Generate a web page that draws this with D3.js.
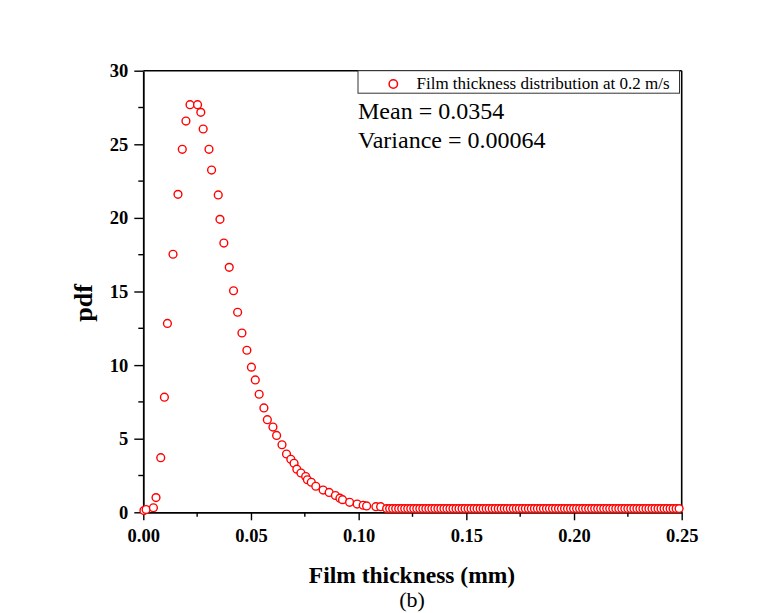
<!DOCTYPE html>
<html>
<head>
<meta charset="utf-8">
<script src="https://cdn.jsdelivr.net/npm/d3@7"></script>
<style>
  html, body { margin: 0; padding: 0; background: #ffffff; }
  svg { display: block; }
</style>
</head>
<body>
<svg id="chart" width="778" height="613"></svg>
<script>
// ---------- data ----------
const peakX = [0.0003, 0.0013, 0.0047, 0.0059, 0.0081, 0.0098, 0.0112, 0.0138, 0.0161, 0.0181,
  0.0198, 0.0217, 0.0252, 0.0267, 0.0278, 0.0305, 0.0317, 0.0348, 0.0356, 0.0374,
  0.0399, 0.0419, 0.0438, 0.0458, 0.0481, 0.0502, 0.0520, 0.0538, 0.0560, 0.0576,
  0.0602, 0.0619, 0.0644, 0.0665, 0.0685, 0.0700, 0.0713, 0.0732, 0.0754, 0.0762,
  0.0780, 0.0801, 0.0835, 0.0863, 0.0892, 0.0913, 0.0925, 0.0958, 0.0993, 0.1021,
  0.1037, 0.1080, 0.1102];
const peakY = [0.12, 0.19, 0.31, 1.00, 3.71, 7.82, 12.83, 17.53, 21.60, 24.66,
  26.58, 27.69, 27.69, 27.17, 26.04, 24.66, 23.25, 21.56, 19.90, 18.29,
  16.64, 15.05, 13.59, 12.18, 11.01, 9.86, 8.99, 8.02, 7.09, 6.29,
  5.79, 5.22, 4.59, 3.96, 3.60, 3.33, 2.93, 2.67, 2.43, 2.21,
  2.04, 1.77, 1.51, 1.35, 1.14, 0.96, 0.86, 0.68, 0.56, 0.48,
  0.43, 0.38, 0.38];
const tailX = [0.1130, 0.1144, 0.1158, 0.1172, 0.1186, 0.1200, 0.1214, 0.1228, 0.1242, 0.1256,
  0.1270, 0.1284, 0.1298, 0.1312, 0.1326, 0.1340, 0.1354, 0.1368, 0.1382, 0.1396,
  0.1410, 0.1424, 0.1438, 0.1452, 0.1466, 0.1480, 0.1494, 0.1508, 0.1522, 0.1536,
  0.1550, 0.1564, 0.1578, 0.1592, 0.1606, 0.1620, 0.1634, 0.1648, 0.1662, 0.1676,
  0.1690, 0.1704, 0.1718, 0.1732, 0.1746, 0.1760, 0.1774, 0.1788, 0.1802, 0.1816,
  0.1830, 0.1844, 0.1858, 0.1872, 0.1886, 0.1900, 0.1914, 0.1928, 0.1942, 0.1956,
  0.1970, 0.1984, 0.1998, 0.2012, 0.2026, 0.2040, 0.2054, 0.2068, 0.2082, 0.2096,
  0.2110, 0.2124, 0.2138, 0.2152, 0.2166, 0.2180, 0.2194, 0.2208, 0.2222, 0.2236,
  0.2250, 0.2264, 0.2278, 0.2292, 0.2306, 0.2320, 0.2334, 0.2348, 0.2362, 0.2376,
  0.2390, 0.2404, 0.2418, 0.2432, 0.2446, 0.2460, 0.2474, 0.2488];
const tailY = [0.25, 0.25, 0.25, 0.25, 0.25, 0.25, 0.25, 0.25, 0.25, 0.25,
  0.25, 0.25, 0.25, 0.25, 0.25, 0.25, 0.25, 0.25, 0.25, 0.25,
  0.25, 0.25, 0.25, 0.25, 0.25, 0.25, 0.25, 0.25, 0.25, 0.25,
  0.25, 0.25, 0.25, 0.25, 0.25, 0.25, 0.25, 0.25, 0.25, 0.25,
  0.25, 0.25, 0.25, 0.25, 0.25, 0.25, 0.25, 0.25, 0.25, 0.25,
  0.25, 0.25, 0.25, 0.25, 0.25, 0.25, 0.25, 0.25, 0.25, 0.25,
  0.25, 0.25, 0.25, 0.25, 0.25, 0.25, 0.25, 0.25, 0.25, 0.25,
  0.25, 0.25, 0.25, 0.25, 0.25, 0.25, 0.25, 0.25, 0.25, 0.25,
  0.25, 0.25, 0.25, 0.25, 0.25, 0.25, 0.25, 0.25, 0.25, 0.25,
  0.25, 0.25, 0.25, 0.25, 0.25, 0.25, 0.25, 0.25];

const xTicks = [0.00, 0.05, 0.10, 0.15, 0.20, 0.25];
const xTickLabels = ["0.00", "0.05", "0.10", "0.15", "0.20", "0.25"];
const xMinor = [0.025, 0.075, 0.125, 0.175, 0.225];
const yTicks = [0, 5, 10, 15, 20, 25, 30];
const yMinor = [2.5, 7.5, 12.5, 17.5, 22.5, 27.5];

const seriesName = "Film thickness distribution at 0.2 m/s";
const statsLines = ["Mean = 0.0354", "Variance = 0.00064"];
const xTitle = "Film thickness (mm)";
const yTitle = "pdf";
const caption = "(b)";

// ---------- chart ----------
const svg = d3.select("#chart");
const font = "'Liberation Serif', 'Times New Roman', Times, serif";
const L = 143.3, R = 681.7, T = 70.7, B = 512.3;

const x = d3.scaleLinear().domain([0, 0.25]).range([L, R]);
const y = d3.scaleLinear().domain([0, 30]).range([B, T]);

svg.append("rect").attr("width", 778).attr("height", 613).attr("fill", "#ffffff");

// frame (top & right)
svg.append("line").attr("x1", L).attr("x2", R).attr("y1", T).attr("y2", T)
  .attr("stroke", "#000").attr("stroke-width", 1.6);
svg.append("line").attr("x1", R).attr("x2", R).attr("y1", T).attr("y2", B)
  .attr("stroke", "#000").attr("stroke-width", 1.6);

// x axis
const xAxis = svg.append("g").attr("transform", `translate(0,${B})`)
  .call(d3.axisBottom(x).tickValues(xTicks).tickFormat((d, i) => xTickLabels[i])
    .tickSizeInner(8).tickSizeOuter(0).tickPadding(9));
xAxis.append("g").selectAll("line").data(xMinor).join("line")
  .attr("x1", d => x(d)).attr("x2", d => x(d)).attr("y1", 0).attr("y2", 4.5)
  .attr("stroke", "#000").attr("stroke-width", 1.4);

// y axis
const yAxis = svg.append("g").attr("transform", `translate(${L},0)`)
  .call(d3.axisLeft(y).tickValues(yTicks).tickFormat(d3.format("d"))
    .tickSizeInner(9).tickSizeOuter(0).tickPadding(6));
yAxis.append("g").selectAll("line").data(yMinor).join("line")
  .attr("x1", 0).attr("x2", -5).attr("y1", d => y(d)).attr("y2", d => y(d))
  .attr("stroke", "#000").attr("stroke-width", 1.4);

[xAxis, yAxis].forEach(g => {
  g.select(".domain").attr("stroke", "#000").attr("stroke-width", 1.8);
  g.selectAll(".tick line").attr("stroke", "#000").attr("stroke-width", 1.4);
  g.selectAll(".tick text").attr("fill", "#000")
    .style("font-family", font).style("font-size", "18.5px").style("font-weight", "bold");
});

// points
const pts = peakX.map((d, i) => ({ x: d, y: peakY[i] }))
  .concat(tailX.map((d, i) => ({ x: d, y: tailY[i] })));
svg.append("g").selectAll("circle").data(pts).join("circle")
  .attr("cx", d => x(d.x)).attr("cy", d => y(d.y)).attr("r", 3.9)
  .attr("fill", "#ffffff").attr("stroke", "#ff0000").attr("stroke-width", 1.4);

// legend box
svg.append("rect").attr("x", 358).attr("y", T).attr("width", 321.5).attr("height", 22.5)
  .attr("fill", "#ffffff").attr("stroke", "#333").attr("stroke-width", 1);
svg.append("circle").attr("cx", 393.3).attr("cy", 84).attr("r", 4.2)
  .attr("fill", "#ffffff").attr("stroke", "#ff0000").attr("stroke-width", 1.5);
svg.append("text").attr("x", 416.5).attr("y", 89.3).text(seriesName)
  .style("font-family", font).style("font-size", "17px").attr("fill", "#000");

// stats
svg.append("g").selectAll("text").data(statsLines).join("text")
  .attr("x", 358).attr("y", (d, i) => 119.3 + i * 29)
  .text(d => d)
  .style("font-family", font).style("font-size", "24px").attr("fill", "#000");

// titles
svg.append("text").attr("x", 412).attr("y", 583).attr("text-anchor", "middle")
  .text(xTitle).style("font-family", font).style("font-size", "23.5px")
  .style("font-weight", "bold").attr("fill", "#000");
svg.append("text").attr("transform", "translate(92,303) rotate(-90)")
  .attr("text-anchor", "middle").text(yTitle)
  .style("font-family", font).style("font-size", "26px")
  .style("font-weight", "bold").attr("fill", "#000");
svg.append("text").attr("x", 412).attr("y", 607).attr("text-anchor", "middle")
  .text(caption).style("font-family", font).style("font-size", "22px").attr("fill", "#000");
</script>
</body>
</html>
